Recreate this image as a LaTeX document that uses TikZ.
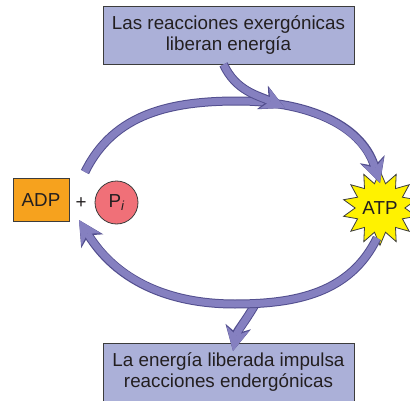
\documentclass[tikz,border=0pt]{standalone}
\usepackage{fontspec}
\setmainfont{Liberation Sans}
\usepackage{tikz}
\usetikzlibrary{arrows.meta,shapes.geometric,positioning}

\definecolor{caja}{HTML}{ABB0D8}
\definecolor{cinta}{HTML}{8580C0}
\definecolor{borde}{HTML}{524E8E}
\definecolor{naranja}{HTML}{F6A21E}
\definecolor{rosa}{HTML}{F07078}
\definecolor{amarillo}{HTML}{FFF200}
\definecolor{linea}{HTML}{3C3C3C}
\definecolor{texto}{HTML}{231F20}

\begin{document}
\begin{tikzpicture}[x=1pt,y=1pt,
		every node/.style={text=texto, font=\fontsize{18.8}{21}\selectfont},
		rotulo/.style={draw=linea, fill=caja, line width=0.8pt, align=center, minimum width=251pt, minimum height=58pt, inner sep=0pt},
		ciclo/.style={draw=cinta, line width=7pt, -{Stealth[length=23pt,width=23pt,inset=7pt,line width=0pt]},
			preaction={draw=borde, line width=9pt, -{Stealth[length=25pt,width=26pt,inset=7pt,line width=0pt]}}}]
		\useasboundingbox (0,0) rectangle (410,400);

		% Cajas
		\node[rotulo] (exer) at (228.5,365) {Las reacciones exergónicas\\liberan energía};
		\node[rotulo, minimum height=59pt] (endo) at (228.5,27.5) {La energía liberada impulsa\\reacciones endergónicas};

		% ADP + Pi und ATP
		\node[draw=linea, fill=naranja, line width=0.8pt, minimum width=56pt, minimum height=43pt, inner sep=0pt] (adp) at (41,199.7) {ADP};
		\node (mas) at (81,197) {+};
		\node[circle, draw=linea, fill=rosa, line width=0.8pt, minimum size=43pt, inner sep=0pt] (pi) at (116.5,197.5) {P\textsubscript{\itshape i}};
		\node[star, star points=14, star point ratio=1.5, draw=linea, fill=amarillo, line width=0.8pt, minimum size=70pt, inner sep=0pt] (atp) at (380,192) {ATP};

		% Koordinaten
		\coordinate (adp_sal) at (85,228);
		\coordinate (cima) at (238,299);
		\coordinate (atp_lleg) at (380,217);
		\coordinate (atp_sal) at (377,162);
		\coordinate (fondo) at (235,96);
		\coordinate (adp_lleg) at (79,180);
		\coordinate (rama_sup) at (285,292);
		\coordinate (rama_inf) at (256,97);
		\coordinate (endo_lleg) at (233,49);

		% Ciclo
		\draw[ciclo] (adp_sal) to[out=64,in=180] (cima) to[out=0,in=108] (atp_lleg);
		\draw[ciclo] (rama_inf) to[out=-120,in=78] (endo_lleg);
		\draw[ciclo] (atp_sal) to[out=-116,in=0] (fondo) to[out=180,in=-58] (adp_lleg);
		\draw[ciclo] ([xshift=-5pt]exer.south) to[out=-65,in=155] (rama_sup);
	\end{tikzpicture}
\end{document}
